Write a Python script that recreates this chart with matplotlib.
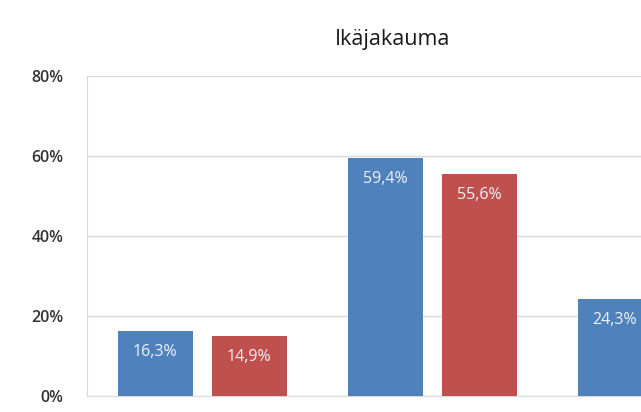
import matplotlib
matplotlib.use("Agg")
import matplotlib.pyplot as plt
import numpy as np

title = "Ikäjakauma"
categories = ["A", "B", "C"]
series1 = [16.3, 59.4, 24.3]
series2 = [14.9, 55.6, 29.5]
yticks = [0, 20, 40, 60, 80]

plt.rcParams['font.family'] = ['Open Sans', 'DejaVu Sans']

W, H = 641, 412
fig = plt.figure(figsize=(W/100, H/100), dpi=100)
fig.patch.set_facecolor('white')

left, bottom_px, top_px, cat_w = 87, 396, 76, 230
ax = fig.add_axes([left/W, (H-bottom_px)/H, 3*cat_w/W, (bottom_px-top_px)/H])

x = np.arange(len(categories))
bw = 75/230
gap = 19/230
pos1 = x - (gap/2 + bw/2)
pos2 = x + (gap/2 + bw/2)
b1 = ax.bar(pos1, series1, width=bw, color='#4F81BD', zorder=3)
b2 = ax.bar(pos2, series2, width=bw, color='#C0504D', zorder=3)

for rects, vals in ((b1, series1), (b2, series2)):
    for r, v in zip(rects, vals):
        ax.annotate(f"{v:.1f}%".replace('.', ','), (r.get_x()+r.get_width()/2, v),
                    xytext=(0, -21), textcoords='offset pixels',
                    ha='center', va='center', color='#EEF2F8', fontsize=11.5, zorder=4)

ax.set_xlim(-0.5, len(categories)-0.5)
ax.set_ylim(0, 80)
ax.set_yticks(yticks)
ax.set_yticklabels([f"{t}%" for t in yticks], fontsize=11.5, color='#333333', fontweight='semibold')
ax.set_xticks([])
ax.yaxis.grid(True, color='#D9D9D9', linewidth=1, zorder=0)
ax.tick_params(axis='y', length=0, pad=17)
for s in ['top', 'right']:
    ax.spines[s].set_visible(False)
ax.spines['left'].set_color('#D9D9D9')
ax.spines['bottom'].set_color('#D9D9D9')

fig.text(393/W, 1-40/H, title, ha='center', va='center', fontsize=15.5, color='#1a1a1a')

fig.savefig("out.png", dpi=100)
